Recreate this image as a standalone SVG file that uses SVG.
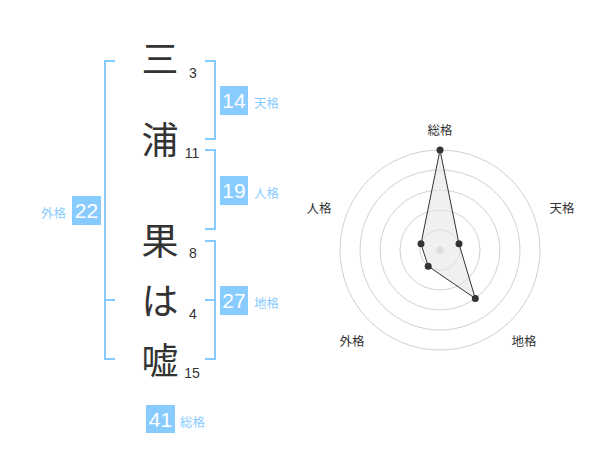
<svg xmlns="http://www.w3.org/2000/svg" width="600" height="470" viewBox="0 0 600 470">
<style>
.kanji{font-family:"Noto Sans CJK JP","Noto Sans CJK SC",sans-serif;font-size:37px;fill:#333;text-anchor:middle}
.num{font-family:"Liberation Sans",Arial,sans-serif;font-size:14px;fill:#333;text-anchor:middle}
.br{fill:none;stroke:#88ccff;stroke-width:2}
.box{fill:#88ccff}
.bt{font-family:"Liberation Sans",Arial,sans-serif;font-size:21px;fill:#fff;text-anchor:middle}
.lbl{font-family:"Noto Sans CJK JP","Noto Sans CJK SC",sans-serif;font-size:12.5px;fill:#88ccff}
.ring{fill:none;stroke:#d0d0d0;stroke-width:1}
.axl{font-family:"Noto Sans CJK JP","Noto Sans CJK SC",sans-serif;font-size:12.5px;fill:#333;text-anchor:middle}
.dot{fill:#333}
</style>
<g id="name">
<text class="kanji" x="160" y="73">三</text>
<text class="num" x="193" y="78">3</text>
<text class="kanji" x="160" y="154">浦</text>
<text class="num" x="192" y="158">11</text>
<text class="kanji" x="160" y="255">果</text>
<text class="num" x="193" y="258">8</text>
<text class="kanji" x="160" y="315">は</text>
<text class="num" x="193" y="319">4</text>
<text class="kanji" x="160" y="375">嘘</text>
<text class="num" x="192" y="378">15</text>
</g>
<g id="connectors">
<path class="br" d="M115,61 H105 V359 H115 M105,300 H115"/>
<path class="br" d="M205,61 H215 V139 H205"/>
<path class="br" d="M205,150 H215 V229 H205"/>
<path class="br" d="M205,241 H215 V359 H205 M205,300 H215"/>
</g>
<g id="tenkaku">
<rect class="box" x="220" y="86" width="28" height="29"/>
<text class="bt" x="234" y="108">14</text>
<text class="lbl" x="254" y="108">天格</text>
</g>
<g id="jinkaku">
<rect class="box" x="220" y="176" width="28" height="29"/>
<text class="bt" x="234" y="198">19</text>
<text class="lbl" x="254" y="198">人格</text>
</g>
<g id="chikaku">
<rect class="box" x="220" y="286" width="28" height="29"/>
<text class="bt" x="234" y="308">27</text>
<text class="lbl" x="254" y="308">地格</text>
</g>
<g id="gaikaku">
<rect class="box" x="72" y="196" width="29" height="29"/>
<text class="bt" x="86.5" y="218">22</text>
<text class="lbl" x="41" y="218">外格</text>
</g>
<g id="soukaku">
<rect class="box" x="146" y="405" width="29" height="28"/>
<text class="bt" x="160.5" y="427">41</text>
<text class="lbl" x="180" y="427">総格</text>
</g>
<g id="radar">
<circle class="ring" cx="440" cy="250" r="20"/>
<circle class="ring" cx="440" cy="250" r="40"/>
<circle class="ring" cx="440" cy="250" r="60"/>
<circle class="ring" cx="440" cy="250" r="80"/>
<circle class="ring" cx="440" cy="250" r="100"/>
<circle cx="440" cy="250" r="3.5" fill="#ccc"/>
<polygon points="440,150 459,243.8 475.3,298.5 428.2,266.2 421,243.8" fill="#e6e6e6" fill-opacity="0.6" stroke="#333" stroke-width="1"/>
<circle class="dot" cx="440" cy="150" r="3.5"/>
<circle class="dot" cx="459" cy="243.8" r="3.5"/>
<circle class="dot" cx="475.3" cy="298.5" r="3.5"/>
<circle class="dot" cx="428.2" cy="266.2" r="3.5"/>
<circle class="dot" cx="421" cy="243.8" r="3.5"/>
<text class="axl" x="440" y="135">総格</text>
<text class="axl" x="562" y="213">天格</text>
<text class="axl" x="524" y="346">地格</text>
<text class="axl" x="352" y="346">外格</text>
<text class="axl" x="319" y="213">人格</text>
</g>
</svg>
